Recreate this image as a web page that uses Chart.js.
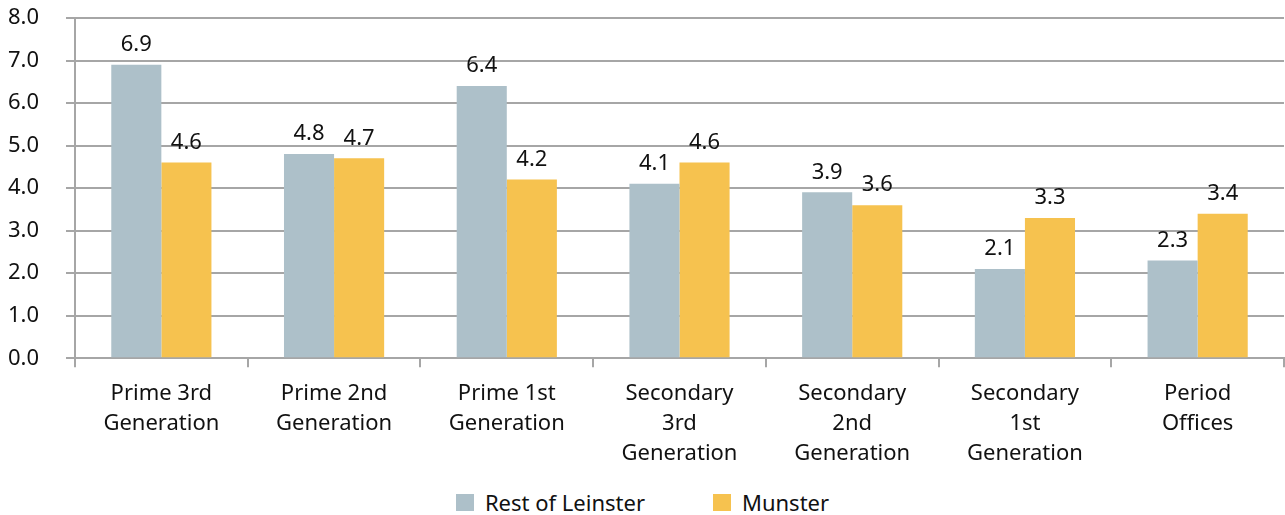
<!DOCTYPE html>
<html>
<head>
<meta charset="utf-8">
<script src="https://cdn.jsdelivr.net/npm/chart.js@4"></script>
<style>
  html, body { margin: 0; padding: 0; background: #fff; }
  #wrap { width: 1285px; height: 515px; position: relative; font-family: 'Noto Sans', sans-serif; }
  #chart-box { width: 1285px; height: 481px; position: relative; }
  #legend {
    position: absolute; left: 0; top: 487px; width: 1285px;
    display: flex; justify-content: center; gap: 68px;
    font-size: 22px; color: #111;
  }
  .item { display: flex; align-items: center; }
  .swatch { width: 18px; height: 17px; margin-right: 11px; }
</style>
</head>
<body>
<div id="wrap">
  <div id="chart-box"><canvas id="c"></canvas></div>
  <div id="legend"></div>
</div>
<script>
const categories = [
  ['Prime 3rd', 'Generation'],
  ['Prime 2nd', 'Generation'],
  ['Prime 1st', 'Generation'],
  ['Secondary', '3rd', 'Generation'],
  ['Secondary', '2nd', 'Generation'],
  ['Secondary', '1st', 'Generation'],
  ['Period', 'Offices']
];
const seriesNames = ['Rest of Leinster', 'Munster'];
const leinster = [6.9, 4.8, 6.4, 4.1, 3.9, 2.1, 2.3];
const munster = [4.6, 4.7, 4.2, 4.6, 3.6, 3.3, 3.4];
const colors = ['#adc0c9', '#f6c24f'];

const fontFamily = "'Noto Sans', sans-serif";
const gridColor = '#a6a6a6';

// value labels above every bar
const valueLabels = {
  id: 'valueLabels',
  afterDatasetsDraw(chart) {
    const ctx = chart.ctx;
    ctx.save();
    ctx.font = '22px ' + fontFamily;
    ctx.fillStyle = '#111';
    ctx.textAlign = 'center';
    ctx.textBaseline = 'bottom';
    chart.data.datasets.forEach((ds, i) => {
      chart.getDatasetMeta(i).data.forEach((bar, j) => {
        ctx.fillText(ds.data[j].toFixed(1), bar.x, bar.y - 9);
      });
    });
    ctx.restore();
  }
};

new Chart(document.getElementById('c'), {
  type: 'bar',
  data: {
    labels: categories,
    datasets: [
      { label: seriesNames[0], data: leinster, backgroundColor: colors[0] },
      { label: seriesNames[1], data: munster, backgroundColor: colors[1] }
    ]
  },
  options: {
    responsive: true,
    maintainAspectRatio: false,
    animation: false,
    layout: { padding: { top: 18, left: 0, right: 1, bottom: 0 } },
    datasets: {
      bar: { categoryPercentage: 0.58, barPercentage: 1.0 }
    },
    scales: {
      x: {
        grid: {
          offset: true,
          drawOnChartArea: false,
          drawTicks: true,
          tickLength: 9,
          color: gridColor,
          lineWidth: 2
        },
        border: { color: gridColor, width: 2 },
        ticks: {
          color: '#111',
          font: { family: fontFamily, size: 22, lineHeight: 1.36 },
          padding: 12,
          maxRotation: 0,
          autoSkip: false
        }
      },
      y: {
        min: 0,
        max: 8,
        // fixed axis width; tick padding should not pad the top of the plot
        afterFit: s => {
          s.width = 75;
          s.paddingTop = 12;
          s.paddingBottom = 12;
        },
        grid: {
          color: gridColor,
          lineWidth: 2,
          tickLength: 9
        },
        border: { color: gridColor, width: 2 },
        ticks: {
          stepSize: 1,
          color: '#111',
          font: { family: fontFamily, size: 22 },
          padding: 27,
          callback: v => v.toFixed(1)
        }
      }
    },
    plugins: {
      legend: { display: false },
      tooltip: { enabled: false }
    }
  },
  plugins: [valueLabels]
});

// legend under the chart
const legend = document.getElementById('legend');
seriesNames.forEach((name, i) => {
  const item = document.createElement('div');
  item.className = 'item';
  item.innerHTML = `<span class="swatch" style="background:${colors[i]}"></span><span>${name}</span>`;
  legend.appendChild(item);
});
</script>
</body>
</html>
